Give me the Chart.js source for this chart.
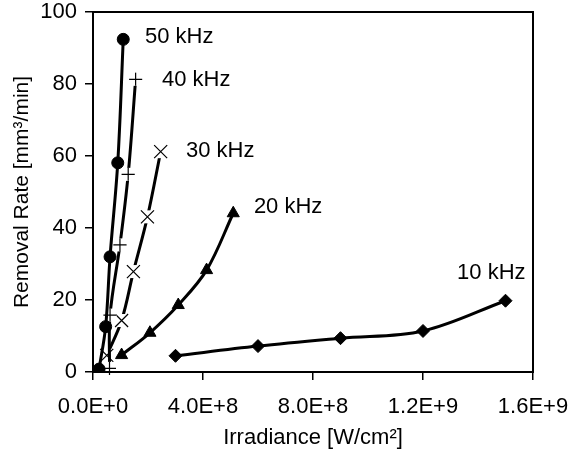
<!DOCTYPE html>
<html>
<head>
<meta charset="utf-8">
<script src="https://cdn.jsdelivr.net/npm/chart.js@4/dist/chart.umd.min.js"></script>
<style>
  html, body { margin: 0; padding: 0; background: #fff; }
  #wrap { width: 574px; height: 457px; }
</style>
</head>
<body>
<div id="wrap"><canvas id="chart" width="574" height="457"></canvas></div>
<script>
// irradiance [W/cm2] and removal rate [mm3/min] per pulse frequency
const x50 = [0.22e8, 0.46e8, 0.62e8, 0.90e8, 1.10e8];
const y50 = [0.8, 12.6, 32.0, 58.1, 92.4];
const x40 = [0.60e8, 0.62e8, 0.98e8, 1.28e8, 1.55e8];
const y40 = [1.0, 15.8, 35.3, 54.9, 81.3];
const x30 = [0.50e8, 1.04e8, 1.47e8, 1.98e8, 2.46e8];
const y30 = [4.6, 14.3, 27.9, 43.1, 61.2];
const x20 = [1.04e8, 2.07e8, 3.10e8, 4.13e8, 5.10e8];
const y20 = [4.7, 10.9, 18.6, 28.3, 44.1];
const x10 = [3.0e8, 6.0e8, 9.0e8, 12.0e8, 15.0e8];
const y10 = [4.5, 7.2, 9.4, 11.4, 19.8];

// series labels, placed next to the curves (data coords of label's left/middle)
const labelText = ['50 kHz', '40 kHz', '30 kHz', '20 kHz', '10 kHz'];
const labelX = [1.89e8, 2.51e8, 3.38e8, 5.85e8, 13.24e8];
const labelY = [93.2, 81.0, 61.5, 45.8, 27.5];

const FONT = "'Liberation Sans', Arial, sans-serif";

function pts(xs, ys) { return xs.map((x, i) => ({ x: x, y: ys[i] })); }

function sci(v) {
  if (v === 0) return '0.0E+0';
  const e = Math.floor(Math.log10(v) + 1e-9);
  return (v / Math.pow(10, e)).toFixed(1) + 'E+' + e;
}

function series(label, data, style, radius, bw) {
  return {
    label: label, data: data,
    borderColor: '#000', backgroundColor: '#000',
    borderWidth: 3, tension: 0.35,
    pointStyle: style, pointRadius: radius, pointHoverRadius: radius,
    pointBorderColor: '#000', pointBackgroundColor: '#000', pointBorderWidth: bw
  };
}

const frame = {
  id: 'frame',
  afterDraw(chart) {
    const a = chart.chartArea, ctx = chart.ctx;
    ctx.save();
    ctx.strokeStyle = '#000';
    ctx.lineWidth = 2;
    ctx.strokeRect(a.left, a.top, a.right - a.left, a.bottom - a.top);
    ctx.restore();
  }
};

// excel-style: +/x markers sit on a white box, so the line breaks around them
const markerBox = {
  id: 'markerBox',
  afterDatasetDraw(chart, args) {
    const ds = chart.data.datasets[args.index];
    if (ds.pointStyle !== 'cross' && ds.pointStyle !== 'crossRot') return;
    const ctx = chart.ctx, h = 6.5;
    ctx.save();
    ctx.strokeStyle = '#000';
    ctx.lineWidth = 1.2;
    args.meta.data.forEach(p => {
      ctx.fillStyle = '#fff';
      ctx.fillRect(p.x - h, p.y - h, 2 * h, 2 * h);
      ctx.beginPath();
      if (ds.pointStyle === 'cross') {
        ctx.moveTo(p.x - h, p.y); ctx.lineTo(p.x + h, p.y);
        ctx.moveTo(p.x, p.y - h); ctx.lineTo(p.x, p.y + h);
      } else {
        ctx.moveTo(p.x - h, p.y - h); ctx.lineTo(p.x + h, p.y + h);
        ctx.moveTo(p.x - h, p.y + h); ctx.lineTo(p.x + h, p.y - h);
      }
      ctx.stroke();
    });
    ctx.restore();
  }
};

const seriesLabels = {
  id: 'seriesLabels',
  afterDatasetsDraw(chart) {
    const ctx = chart.ctx, xs = chart.scales.x, ys = chart.scales.y;
    ctx.save();
    ctx.fillStyle = '#000';
    ctx.font = '22px ' + FONT;
    ctx.textAlign = 'left';
    ctx.textBaseline = 'middle';
    labelText.forEach((t, i) => {
      ctx.fillText(t, xs.getPixelForValue(labelX[i]), ys.getPixelForValue(labelY[i]));
    });
    ctx.restore();
  }
};

new Chart(document.getElementById('chart'), {
  type: 'line',
  data: {
    datasets: [
      series('50 kHz', pts(x50, y50), 'circle', 6, 1),
      series('40 kHz', pts(x40, y40), 'cross', 6.5, 1),
      series('30 kHz', pts(x30, y30), 'crossRot', 8.5, 1),
      series('20 kHz', pts(x20, y20), 'triangle', 7, 1),
      series('10 kHz', pts(x10, y10), 'rectRot', 6.5, 1)
    ]
  },
  options: {
    responsive: false,
    animation: false,
    layout: { padding: { top: 12, right: 41, left: 0, bottom: 0 } },
    plugins: { legend: { display: false }, tooltip: { enabled: false } },
    scales: {
      x: {
        type: 'linear', min: 0, max: 1.6e9,
        afterFit(s) { s.height = 85; s.paddingLeft = 0; s.paddingRight = 0; },
        ticks: { stepSize: 4e8, color: '#000', padding: 16, maxRotation: 0,
                 font: { family: FONT, size: 22, lineHeight: 1 }, callback: v => sci(v) },
        grid: { drawOnChartArea: false, color: '#000', lineWidth: 1.5, tickLength: 8 },
        border: { color: '#000', width: 2 },
        title: { display: true, text: 'Irradiance [W/cm²]', color: '#000',
                 font: { family: FONT, size: 22 }, padding: { bottom: 6, top: 0 } }
      },
      y: {
        min: 0, max: 100,
        afterFit(s) { s.width = 93; s.paddingTop = 0; s.paddingBottom = 0; },
        ticks: { stepSize: 20, color: '#000', padding: 8,
                 font: { family: FONT, size: 22, lineHeight: 1 } },
        grid: { drawOnChartArea: false, color: '#000', lineWidth: 1.5, tickLength: 8 },
        border: { color: '#000', width: 2 },
        title: { display: true, text: 'Removal Rate [mm³/min]', color: '#000',
                 font: { family: FONT, size: 21 }, padding: { top: 10, bottom: 0 } }
      }
    }
  },
  plugins: [frame, markerBox, seriesLabels]
});
</script>
</body>
</html>
